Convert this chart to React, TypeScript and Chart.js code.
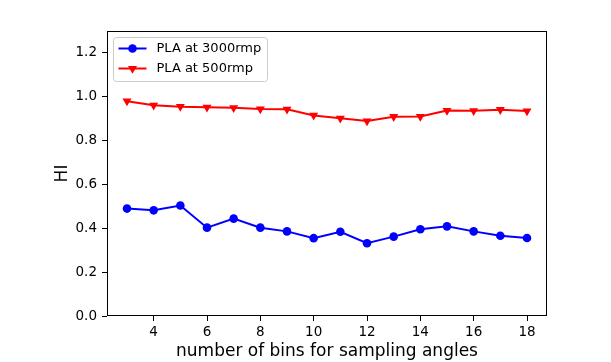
import React, { useEffect, useRef } from "react";
import { Chart, registerables } from "chart.js";

Chart.register(...registerables);

const bins = [3, 4, 5, 6, 7, 8, 9, 10, 11, 12, 13, 14, 15, 16, 17, 18];
const hi3000 = [0.49, 0.482, 0.504, 0.403, 0.444, 0.403, 0.386, 0.355, 0.384, 0.332, 0.362, 0.396, 0.409, 0.386, 0.366, 0.356];
const hi500 = [0.98, 0.961, 0.955, 0.952, 0.95, 0.944, 0.943, 0.915, 0.902, 0.889, 0.909, 0.91, 0.937, 0.936, 0.941, 0.935];
const xTicks = [4, 6, 8, 10, 12, 14, 16, 18];
const yTicks = [0, 0.2, 0.4, 0.6, 0.8, 1.0, 1.2];
const seriesLabels = ["PLA at 3000rmp", "PLA at 500rmp"];

const FONT = "'DejaVu Sans', sans-serif";

const frameAndLegend = {
  id: "frameAndLegend",
  afterDraw(chart: any) {
    const { ctx, chartArea } = chart;
    ctx.save();
    ctx.strokeStyle = "#000";
    ctx.lineWidth = 1;
    const l = Math.round(chartArea.left) + 0.5;
    const t = Math.round(chartArea.top) + 0.5;
    const r = Math.round(chartArea.right) - 0.5;
    const b = Math.round(chartArea.bottom) - 0.5;
    ctx.strokeRect(l, t, r - l, b - t);

    const bx = chartArea.left + 6.5;
    const by = chartArea.top + 6.5;
    const bw = 154;
    const bh = 44;
    const rad = 3;
    ctx.beginPath();
    ctx.moveTo(bx + rad, by);
    ctx.lineTo(bx + bw - rad, by);
    ctx.arcTo(bx + bw, by, bx + bw, by + rad, rad);
    ctx.lineTo(bx + bw, by + bh - rad);
    ctx.arcTo(bx + bw, by + bh, bx + bw - rad, by + bh, rad);
    ctx.lineTo(bx + rad, by + bh);
    ctx.arcTo(bx, by + bh, bx, by + bh - rad, rad);
    ctx.lineTo(bx, by + rad);
    ctx.arcTo(bx, by, bx + rad, by, rad);
    ctx.closePath();
    ctx.fillStyle = "rgba(255,255,255,0.8)";
    ctx.fill();
    ctx.strokeStyle = "#cccccc";
    ctx.stroke();

    chart.data.datasets.forEach((ds: any, i: number) => {
      const y = by + 11 + i * 20;
      const x0 = bx + 5;
      const x1 = bx + 33;
      ctx.strokeStyle = ds.borderColor;
      ctx.lineWidth = 2;
      ctx.beginPath();
      ctx.moveTo(x0, y);
      ctx.lineTo(x1, y);
      ctx.stroke();
      ctx.fillStyle = ds.borderColor;
      const cx = (x0 + x1) / 2;
      if (ds.pointStyle === "triangle") {
        const rr = ds.pointRadius;
        ctx.beginPath();
        ctx.moveTo(cx, y + rr);
        ctx.lineTo(cx - rr * 0.866, y - rr * 0.5);
        ctx.lineTo(cx + rr * 0.866, y - rr * 0.5);
        ctx.closePath();
        ctx.fill();
      } else {
        ctx.beginPath();
        ctx.arc(cx, y, ds.pointRadius, 0, Math.PI * 2);
        ctx.fill();
      }
      ctx.fillStyle = "#000";
      ctx.font = `13px ${FONT}`;
      ctx.textBaseline = "middle";
      ctx.textAlign = "left";
      ctx.fillText(ds.label, bx + 43, y + 0.5);
    });
    ctx.restore();
  },
};

export default function App() {
  const ref = useRef<HTMLCanvasElement>(null);
  useEffect(() => {
    if (!ref.current) return;
    const chart = new Chart(ref.current, {
      type: "line",
      data: {
        datasets: [
          {
            label: seriesLabels[0],
            data: bins.map((x, i) => ({ x, y: hi3000[i] })),
            borderColor: "#0000ff",
            backgroundColor: "#0000ff",
            borderWidth: 2,
            pointRadius: 4.3,
            pointStyle: "circle",
            pointBorderWidth: 0,
            tension: 0,
          },
          {
            label: seriesLabels[1],
            data: bins.map((x, i) => ({ x, y: hi500[i] })),
            borderColor: "#ff0000",
            backgroundColor: "#ff0000",
            borderWidth: 2,
            pointRadius: 5.2,
            pointStyle: "triangle",
            pointRotation: 180,
            pointBorderWidth: 0,
            tension: 0,
          },
        ],
      },
      options: {
        animation: false,
        responsive: false,
        devicePixelRatio: 1,
        layout: { padding: { left: 0, right: 64, top: 31, bottom: 0 } },
        plugins: { legend: { display: false }, tooltip: { enabled: false } },
        scales: {
          x: {
            type: "linear",
            min: 2.25,
            max: 18.75,
            afterBuildTicks: (s: any) => {
              s.ticks = xTicks.map((v) => ({ value: v }));
            },
            afterFit: (s: any) => {
              s.height = 46;
            },
            border: { display: false },
            grid: { drawOnChartArea: false, drawTicks: true, tickLength: 5, color: "#000" },
            ticks: {
              color: "#000",
              font: { family: FONT, size: 13.5 },
              padding: 3,
              maxRotation: 0,
              callback: (v: any) => String(v),
            },
            title: {
              display: true,
              text: "number of bins for sampling angles",
              color: "#000",
              font: { family: FONT, size: 17 },
              padding: { top: 0, bottom: 0 },
            },
          },
          y: {
            type: "linear",
            min: 0,
            max: 1.3,
            afterBuildTicks: (s: any) => {
              s.ticks = yTicks.map((v) => ({ value: v }));
            },
            afterFit: (s: any) => {
              s.width = 107;
            },
            border: { display: false },
            grid: { drawOnChartArea: false, drawTicks: true, tickLength: 5, color: "#000" },
            ticks: {
              color: "#000",
              font: { family: FONT, size: 13.5 },
              padding: 5,
              callback: (v: any) => Number(v).toFixed(1),
            },
            title: {
              display: true,
              text: "HI",
              color: "#000",
              font: { family: FONT, size: 17 },
              padding: { top: 52, bottom: 0 },
            },
          },
        },
      },
      plugins: [frameAndLegend],
    } as any);
    return () => chart.destroy();
  }, []);
  return (
    <div style={{ position: "absolute", left: 0, top: 0, width: 611, height: 362, background: "#fff" }}>
      <canvas ref={ref} width={611} height={362} style={{ display: "block" }} />
    </div>
  );
}
